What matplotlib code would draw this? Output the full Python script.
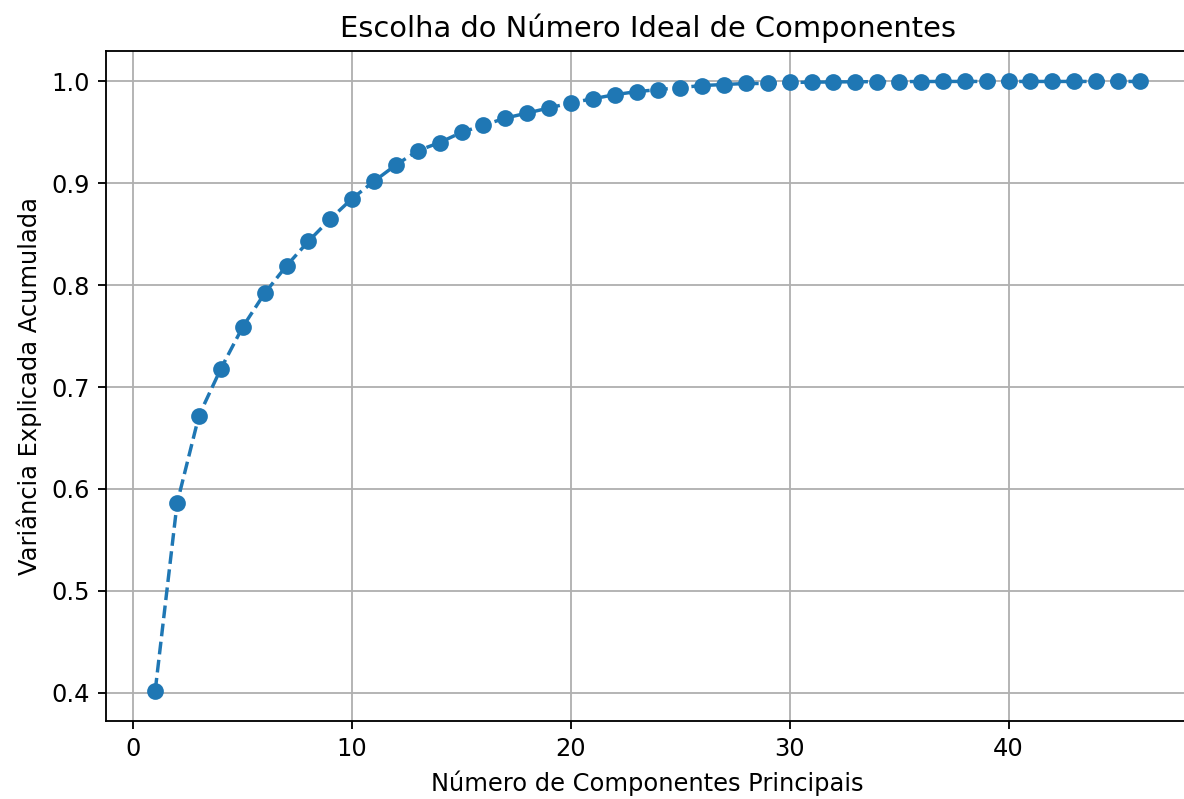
import numpy as np
import matplotlib
matplotlib.use("Agg")
import matplotlib.pyplot as plt

n_componentes = list(range(1, 47))
variancia_acumulada = [
    0.402, 0.586, 0.672, 0.718, 0.759, 0.792, 0.819, 0.843, 0.865, 0.885,
    0.902, 0.918, 0.932, 0.940, 0.950, 0.957, 0.964, 0.969, 0.974, 0.979,
    0.983, 0.987, 0.990, 0.992, 0.994, 0.996, 0.997, 0.998, 0.998, 0.999,
    0.9993, 0.9995, 0.9997, 0.9998, 0.9999, 0.9999, 1.0, 1.0, 1.0, 1.0,
    1.0, 1.0, 1.0, 1.0, 1.0, 1.0,
]

plt.rcParams['font.size'] = 10.5

dpi = 165
fig = plt.figure(figsize=(1184 / dpi, 799 / dpi), dpi=dpi)
ax = fig.add_axes([106 / 1184, 78 / 799, 1083 / 1184, 670 / 799])

ax.plot(n_componentes, variancia_acumulada, marker='o', linestyle='--', markersize=6.3)
ax.set_title('Escolha do Número Ideal de Componentes')
ax.set_xlabel('Número de Componentes Principais')
ax.set_ylabel('Variância Explicada Acumulada')
ax.grid(True)

fig.savefig('out.png', dpi=dpi)
